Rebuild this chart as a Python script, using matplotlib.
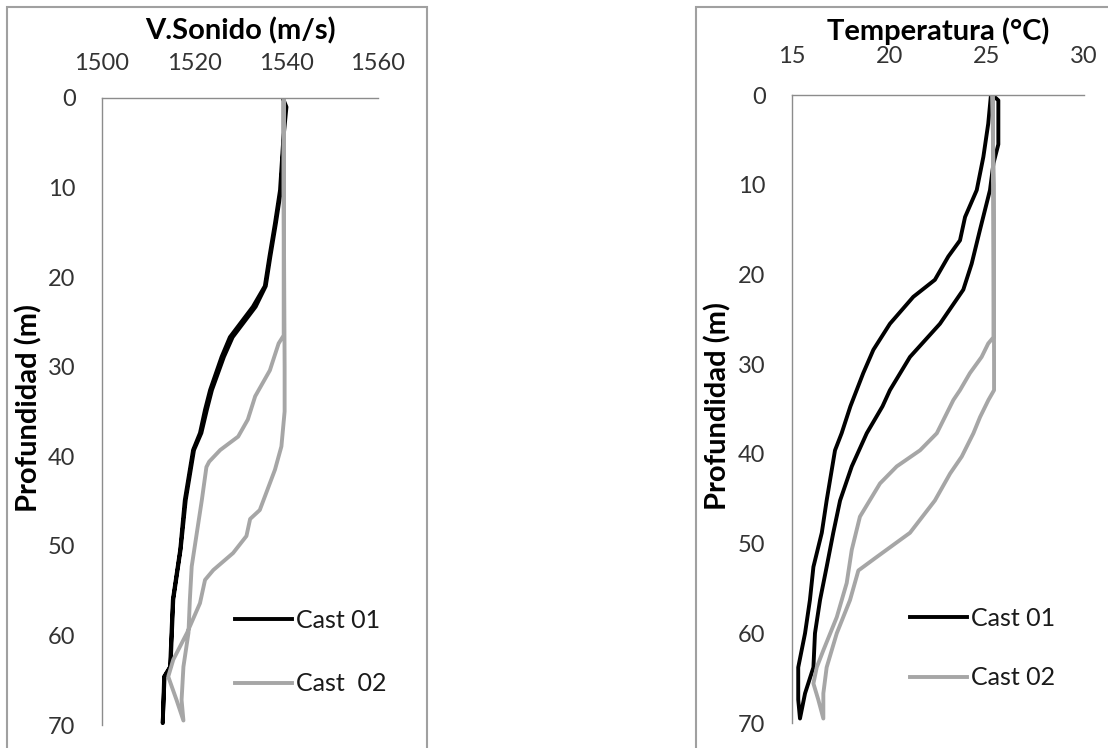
import matplotlib
matplotlib.use("Agg")
import matplotlib.pyplot as plt
from matplotlib.patches import Rectangle

plt.rcParams['font.family'] = ['Lato', 'DejaVu Sans']

# Sound speed profiles (m/s) - each cast goes down and comes back up
sv_depth_01 = [0, 1, 4.7, 10.3, 14, 17.7, 21, 23.3, 26.7, 28.9, 32.6, 34.8, 37.4, 39.3, 44.9, 50.4, 56, 63.5, 64.6, 69.8,
               64.6, 63.5, 56, 50.4, 44.9, 39.3, 37.4, 34.8, 32.6, 28.9, 26.7, 23.3, 21, 17.7, 14, 10.3, 4.7, 0]
sv_01 = [1539.3, 1540.1, 1539.4, 1538.7, 1537.6, 1536.4, 1535.4, 1532.8, 1527.8, 1526.0, 1523.5, 1522.4, 1521.3, 1519.8,
         1518.0, 1517.0, 1515.4, 1514.8, 1513.5, 1513.2,
         1513.6, 1514.9, 1515.5, 1517.1, 1518.2, 1520.0, 1521.6, 1522.8, 1523.9, 1526.5, 1528.4, 1533.4, 1535.6, 1536.6,
         1537.8, 1538.9, 1539.5, 1539.5]

sv_depth_02 = [0, 10, 20, 30, 35, 38.9, 41.5, 46, 47, 48.9, 50.8, 52.7, 53.8, 56.4, 59.7, 62.7, 64.6, 67.2, 69.5,
               67.2, 63.5, 59.7, 56, 52.3, 48.6, 44.9, 41.2, 40.6, 39.3, 37.8, 35.9, 33.3, 30.4, 29.6, 27.4, 26.5,
               20, 10, 0]
sv_02 = [1539.5, 1539.5, 1539.6, 1539.7, 1539.7, 1539.0, 1537.6, 1534.3, 1532.2, 1531.4, 1528.5, 1524.2, 1522.4, 1521.3,
         1518.5, 1515.5, 1514.4, 1516.2, 1517.7,
         1517.3, 1517.7, 1518.8, 1519.1, 1519.5, 1520.6, 1521.7, 1522.7, 1523.3, 1525.7, 1529.6, 1531.7, 1533.3, 1536.5,
         1537.0, 1538.4, 1539.5, 1539.5, 1539.5, 1539.5]

# Temperature profiles (C)
t_depth_01 = [0, 3.2, 6.9, 10.6, 13.6, 16.2, 18, 20.6, 22.5, 25.5, 28.4, 31, 34.7, 37.7, 39.6, 45.2, 48.8, 52.6, 56.3, 60,
              63.8, 67.4, 69.5,
              66.7, 63.8, 60, 56.3, 52.6, 48.8, 45.2, 41.4, 37.7, 34.7, 32.9, 29.2, 25.5, 21.7, 18.8, 15, 10.6, 7.6, 5.5,
              0.6, 0]
t_01 = [25.22, 25.08, 24.83, 24.49, 23.89, 23.63, 23.03, 22.34, 21.23, 20.03, 19.18, 18.66, 18.0, 17.55, 17.21, 16.78,
        16.53, 16.1, 15.92, 15.67, 15.32, 15.32, 15.41,
        15.67, 16.1, 16.18, 16.44, 16.78, 17.12, 17.47, 18.07, 18.84, 19.65, 20.03, 21.06, 22.6, 23.8, 24.23, 24.66,
        25.17, 25.35, 25.6, 25.6, 25.3]

t_depth_02 = [0, 10, 20, 30, 32.9, 34, 35.9, 37.7, 40.3, 42.2, 45.2, 48.8, 51.5, 53, 56.3, 60, 63.8, 66.7, 69.5,
              67.4, 65.6, 63.8, 61.9, 58.2, 54.4, 50.7, 47, 43.3, 41.4, 39.6, 37.7, 34, 32.9, 31, 29.2, 27.7, 27, 20, 10, 0]
t_02 = [25.3, 25.35, 25.37, 25.38, 25.38, 25.09, 24.66, 24.32, 23.72, 23.12, 22.34, 21.06, 19.35, 18.41, 17.98, 17.3,
        16.78, 16.61, 16.61,
        16.35, 16.1, 16.27, 16.61, 17.3, 17.81, 18.07, 18.49, 19.52, 20.38, 21.58, 22.44, 23.29, 23.63, 24.14, 24.74,
        25.08, 25.35, 25.35, 25.35, 25.3]

depth_ticks = [0, 10, 20, 30, 40, 50, 60, 70]
sv_ticks = [1500, 1520, 1540, 1560]
t_ticks = [15, 20, 25, 30]

BLACK = '#000000'
GRAY = '#a6a6a6'
AXCOL = '#8c8c8c'
TXT = '#333333'
LW = 2.8

fig = plt.figure(figsize=(11.08, 7.48), dpi=100)

# chart-area frames like the Excel screenshot
fig.add_artist(Rectangle((7 / 1108, -0.05), 420 / 1108, 1.05 - 7 / 748, transform=fig.transFigure,
                         fill=False, edgecolor='#a0a0a0', linewidth=1.5))
fig.add_artist(Rectangle((696 / 1108, -0.05), 0.5, 1.05 - 7 / 748, transform=fig.transFigure,
                         fill=False, edgecolor='#a0a0a0', linewidth=1.5))


def style_axes(ax, xlim, xticks, xpad):
    ax.set_xlim(*xlim)
    ax.set_ylim(70, 0)
    ax.set_xticks(xticks)
    ax.set_yticks(depth_ticks)
    ax.xaxis.tick_top()
    for s in ['right', 'bottom']:
        ax.spines[s].set_visible(False)
    for s in ['left', 'top']:
        ax.spines[s].set_color(AXCOL)
        ax.spines[s].set_linewidth(1.0)
    ax.tick_params(axis='x', length=0, pad=xpad, labelsize=17, labelcolor=TXT)
    ax.tick_params(axis='y', length=0, pad=19, labelsize=17, labelcolor=TXT)
    ax.patch.set_alpha(0)


# left: sound speed
ax1 = fig.add_axes([102 / 1108, 1 - 725 / 748, 276 / 1108, 627 / 748])
ax1.plot(sv_01, sv_depth_01, color=BLACK, lw=LW, label='Cast 01')
ax1.plot(sv_02, sv_depth_02, color=GRAY, lw=LW, label='Cast  02')
style_axes(ax1, (1500, 1560), sv_ticks, 17)
ax1.legend(loc='upper left', bbox_to_anchor=(0.435, 0.205), frameon=False, fontsize=18,
           handlelength=2.3, handletextpad=0.15, labelspacing=1.62, borderpad=0, labelcolor='#1a1a1a')

# right: temperature
ax2 = fig.add_axes([792 / 1108, 1 - 723 / 748, 292 / 1108, 628 / 748])
ax2.plot(t_01, t_depth_01, color=BLACK, lw=LW, label='Cast 01')
ax2.plot(t_02, t_depth_02, color=GRAY, lw=LW, label='Cast 02')
style_axes(ax2, (15, 30), t_ticks, 20)
ax2.legend(loc='upper left', bbox_to_anchor=(0.36, 0.205), frameon=False, fontsize=18,
           handlelength=2.3, handletextpad=0.15, labelspacing=1.46, borderpad=0, labelcolor='#1a1a1a')

# axis titles
fig.text(240 / 1108, 1 - 39 / 748, 'V.Sonido (m/s)', ha='center', va='baseline', fontsize=21, fontweight='bold')
fig.text(938 / 1108, 1 - 40 / 748, 'Temperatura (°C)', ha='center', va='baseline', fontsize=21, fontweight='bold')
fig.text(29 / 1108, 1 - 408 / 748, 'Profundidad (m)', ha='center', va='center', rotation=90,
         fontsize=21, fontweight='bold')
fig.text(718 / 1108, 1 - 406 / 748, 'Profundidad (m)', ha='center', va='center', rotation=90,
         fontsize=21, fontweight='bold')

fig.savefig('out.png', dpi=100)
